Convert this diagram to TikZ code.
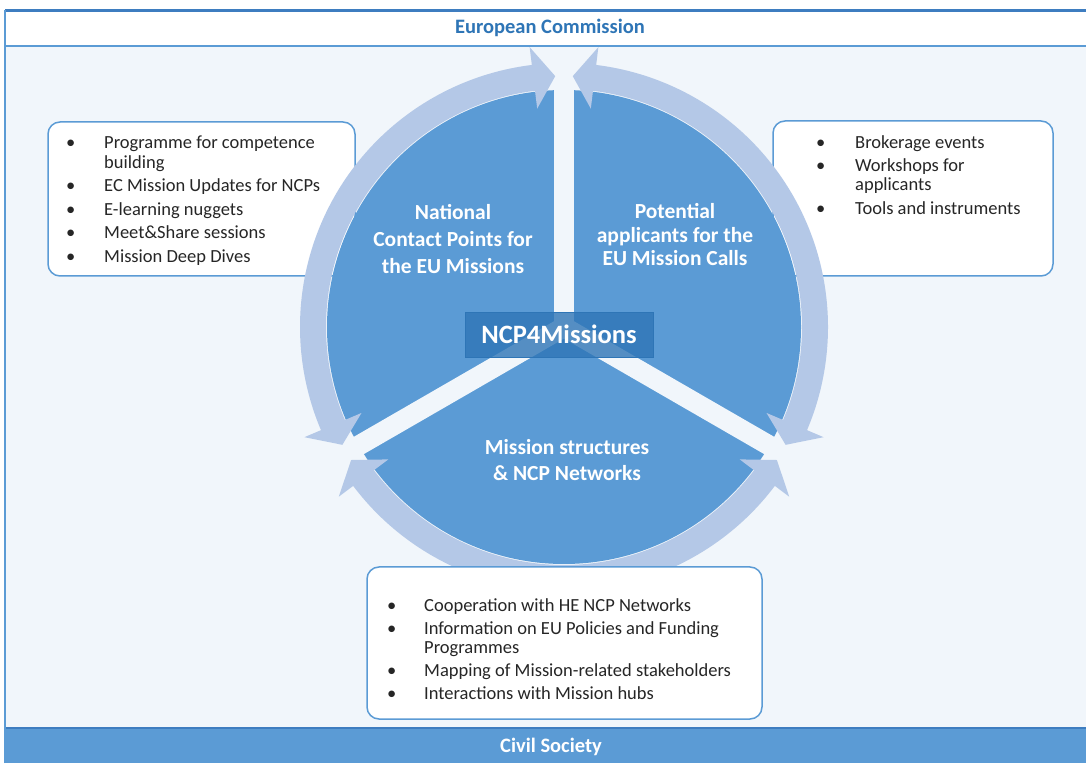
\documentclass[tikz,border=0pt]{standalone}
\usepackage{fontspec}
\setmainfont{Carlito}
\definecolor{bgblue}{HTML}{F1F6FB}
\definecolor{midblue}{HTML}{5B9BD5}
\definecolor{darkblue}{HTML}{3E7DC0}
\definecolor{ringblue}{HTML}{B4C8E7}
\definecolor{ncpblue}{HTML}{2E75B6}
\definecolor{headblue}{HTML}{2E75B6}
\definecolor{listgray}{HTML}{262626}

\begin{document}
\begin{tikzpicture}[x=1pt,y=1pt,
  panel/.style={draw=midblue,line width=1.5pt,fill=white,rounded corners=12pt},
  sectortext/.style={text=white,align=center},
  bullets/.style={anchor=base west,inner sep=0pt,text=listgray,
    font=\fontsize{18.5}{19.5}\selectfont},
  ring/.style={fill=ringblue},
  bandtext/.style={font=\fontsize{20.5}{24}\selectfont\bfseries}]

  \useasboundingbox (0,0) rectangle (1086,763);
  \fill[white] (0,0) rectangle (1086,763);
  \fill[bgblue] (5,35) rectangle (1086,717);
  \fill[white] (5,717) rectangle (1086,752);
  \draw[darkblue,line width=3pt] (5,752) -- (1086,752);
  \draw[midblue,line width=2pt] (5,717) -- (1086,717);
  \fill[midblue] (5,0) rectangle (1086,35);
  \draw[darkblue,line width=2pt] (5,35) -- (1086,35);
  \draw[midblue,line width=1.5pt] (5,0) -- (5,753);

  \node[bandtext,text=headblue] (ec) at (550,735) {European Commission};
  \node[bandtext,text=white] (cs) at (551,16) {Civil Society};

  \draw[panel] (48,641) rectangle (355,487);
  \draw[panel] (773,642) rectangle (1053,487);

  \node[bullets] (natlist) at (66,614) {\begin{tabular}[t]{@{}p{38pt}@{}l@{}}
    \textbullet & Programme for competence\\
                & building\\[4pt]
    \textbullet & EC Mission Updates for NCPs\\[4pt]
    \textbullet & E-learning nuggets\\[4pt]
    \textbullet & Meet\&Share sessions\\[4pt]
    \textbullet & Mission Deep Dives
  \end{tabular}};

  \node[bullets] (potlist) at (816,614) {\begin{tabular}[t]{@{}p{39pt}@{}l@{}}
    \textbullet & Brokerage events\\[3pt]
    \textbullet & Workshops for\\
                & applicants\\[4pt]
    \textbullet & Tools and instruments
  \end{tabular}};

  \coordinate (c) at (564,436);
  \fill[midblue] (c) circle[radius=237pt];
  \draw[bgblue,line width=20pt] (c) -- ++(90:246pt);
  \draw[bgblue,line width=20pt] (c) -- ++(210:246pt);
  \draw[bgblue,line width=20pt] (c) -- ++(330:246pt);

  \begin{scope}[shift={(c)}]
    \fill[ring] (92:251pt) -- (97:282pt) -- (97:264pt)
      arc[start angle=97,end angle=203,radius=264pt] -- (203:282pt)
      -- (208:251pt) -- (203:220pt) -- (203:238pt)
      arc[start angle=203,end angle=97,radius=238pt] -- (97:220pt) -- cycle;

    \fill[ring] (212:251pt) -- (217:282pt) -- (217:264pt)
      arc[start angle=217,end angle=323,radius=264pt] -- (323:282pt)
      -- (328:251pt) -- (323:220pt) -- (323:238pt)
      arc[start angle=323,end angle=217,radius=238pt] -- (217:220pt) -- cycle;

    \fill[ring] (332:251pt) -- (337:282pt) -- (337:264pt)
      arc[start angle=337,end angle=443,radius=264pt] -- (443:282pt)
      -- (448:251pt) -- (443:220pt) -- (443:238pt)
      arc[start angle=443,end angle=337,radius=238pt] -- (337:220pt) -- cycle;
  \end{scope}

  \draw[panel] (367,196) rectangle (762,44);

  \node[bullets] (structlist) at (387,151) {\begin{tabular}[t]{@{}p{37pt}@{}l@{}}
    \textbullet & Cooperation with HE NCP Networks\\[3pt]
    \textbullet & Information on EU Policies and Funding\\
                & Programmes\\[3pt]
    \textbullet & Mapping of Mission-related stakeholders\\[3pt]
    \textbullet & Interactions with Mission hubs
  \end{tabular}};

  \node[sectortext,font=\fontsize{21.5}{27}\selectfont\bfseries] (nat) at (453,524)
    {National\\Contact Points for\\the EU Missions};
  \node[sectortext,font=\fontsize{21.5}{23.5}\selectfont\bfseries] (pot) at (675,528)
    {Potential\\applicants for the\\EU Mission Calls};
  \node[sectortext,font=\fontsize{21.5}{26}\selectfont\bfseries] (struct) at (567,303)
    {Mission structures\\\& NCP Networks};

  \node[draw=ncpblue,fill=ncpblue,fill opacity=0.8,text opacity=1,text=white,
    minimum width=188pt,minimum height=45pt,
    font=\fontsize{26.5}{30}\selectfont\bfseries] (ncp) at (559,428.5) {NCP4Missions};

\end{tikzpicture}
\end{document}
